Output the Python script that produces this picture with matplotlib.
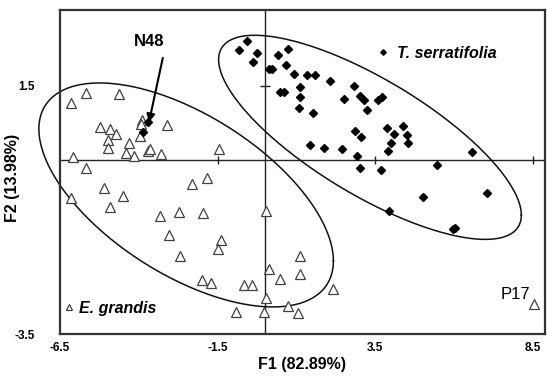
import numpy as np
import matplotlib
matplotlib.use("Agg")
import matplotlib.pyplot as plt

plt.rcParams['font.family'] = ['Liberation Sans', 'DejaVu Sans']

# ---- data ----
eg_x = [-5.66, -4.63, -6.15, -3.91, -3.93, -3.96, -5.23, -4.93, -4.71, -4.97,
        -4.97, -4.31, -4.40, -4.16, -3.71, -3.64, -3.30, -3.12, -6.09, -5.66,
        -1.45, -5.11, -2.32, -1.84, -6.15, -4.51, -4.92, -3.33, -2.73, -1.98,
        -3.04, -2.70, -1.41, -1.49, -2.01, -1.71, 0.02, 1.11, 0.14, 0.48,
        1.11, -0.67, -0.40, 0.02, 2.17, 0.74, -0.93, -0.03, 1.06, 8.54]
eg_y = [1.36, 1.34, 1.15, 0.81, 0.72, 0.49, 0.66, 0.62, 0.53, 0.41,
        0.24, 0.35, 0.14, 0.08, 0.18, 0.22, 0.13, 0.70, 0.06, -0.15,
        0.22, -0.56, -0.47, -0.36, -0.77, -0.73, -0.94, -1.12, -1.04, -1.07,
        -1.51, -1.93, -1.60, -1.78, -2.42, -2.48, -1.03, -1.92, -2.20, -2.39,
        -2.30, -2.52, -2.52, -2.78, -2.60, -2.93, -3.05, -3.05, -3.07, -2.89]

ts_x = [-0.58, -0.81, -0.24, -0.39, 0.42, 0.73, 0.67, 0.13, 0.21, 0.92,
        1.34, 1.59, 2.07, 1.12, 0.48, 0.59, 1.10, 1.08, 1.51, 2.83,
        2.52, 3.01, 3.14, 3.22, 3.59, 3.70, 2.85, 3.04, 1.43, 1.88,
        2.45, 2.92, 3.01, 3.68, 5.44, 3.88, 4.37, 4.10, 4.51, 4.00,
        4.53, 3.91, 6.57, 5.02, 7.03, 3.93, 5.97, 6.03, -3.70, -3.86]
ts_y = [2.40, 2.21, 2.15, 1.98, 2.12, 2.23, 1.92, 1.84, 1.83, 1.73,
        1.72, 1.72, 1.60, 1.47, 1.38, 1.38, 1.28, 1.05, 0.95, 1.50,
        1.24, 1.30, 1.22, 1.01, 1.22, 1.27, 0.58, 0.46, 0.31, 0.24,
        0.22, 0.09, -0.16, -0.20, -0.09, 0.64, 0.68, 0.53, 0.51, 0.34,
        0.34, 0.18, 0.17, -0.74, -0.66, -1.03, -1.39, -1.36, 0.76, 0.56]

# ellipse parameters: center, x half-extent, y half-extent, x-y coupling
eg_ell = dict(cx=-2.50, cy=-0.70, sx=4.67, sy=2.255, sxy=-6.2)
ts_ell = dict(cx=3.33, cy=0.46, sx=4.80, sy=2.055, sxy=-7.51)

xticks = [-6.5, -1.5, 3.5, 8.5]
xticklabels = ['-6.5', '-1.5', '3.5', '8.5']
yticks = [-3.5, 1.5]
yticklabels = ['-3.5', '1.5']

series_labels = ['T. serratifolia', 'E. grandis']
xlabel = 'F1 (82.89%)'
ylabel = 'F2 (13.98%)'


def ellipse_xy(p, n=400):
    t = np.linspace(0, 2 * np.pi, n)
    a = p['sx']
    c = p['sxy'] / a
    d = np.sqrt(p['sy'] ** 2 - c ** 2)
    x = p['cx'] + a * np.cos(t)
    y = p['cy'] + c * np.cos(t) + d * np.sin(t)
    return x, y


fig = plt.figure(figsize=(5.47, 3.76), dpi=100)
ax = fig.add_axes([60 / 547, 1 - 334 / 376, 485 / 547, (334 - 9.7) / 376])
ax.set_xlim(-6.5, 8.88)
ax.set_ylim(-3.5, 3.03)

for s in ax.spines.values():
    s.set_color('#333333')
    s.set_linewidth(1.6)

ax.axhline(0, color='#222222', lw=1.0, zorder=1)
ax.axvline(0, color='#222222', lw=1.0, zorder=1)
ax.plot(xticks[1:], [0] * 3, ls='none', marker='|', ms=6, mew=1.0, color='#222222', zorder=1)
ax.plot([0], [yticks[1]], ls='none', marker='_', ms=7, mew=1.0, color='#222222', zorder=1)

for p in (eg_ell, ts_ell):
    ex, ey = ellipse_xy(p)
    ax.plot(ex, ey, color='#111111', lw=1.1, clip_on=False, zorder=2)

h_eg, = ax.plot(eg_x, eg_y, ls='none', marker='^', ms=6.8, mfc='white', mec='#404040', mew=0.9, zorder=3)
h_ts, = ax.plot(ts_x, ts_y, ls='none', marker='D', ms=4.3, mfc='black', mec='black', zorder=4)

ax.set_xticks(xticks)
ax.set_xticklabels(xticklabels)
ax.set_yticks(yticks)
ax.set_yticklabels(yticklabels)
ax.tick_params(length=0, labelsize=8.5)
ax.tick_params(axis='x', pad=6)
ax.tick_params(axis='y', pad=18)
for lab in ax.get_xticklabels() + ax.get_yticklabels():
    lab.set_fontweight('bold')

ax.set_xlabel(xlabel, fontsize=11.5, fontweight='bold')
ax.set_ylabel(ylabel, fontsize=11.5, fontweight='bold')
ax.xaxis.set_label_coords(0.5, -(357 - 334) / 324.3)
ax.yaxis.set_label_coords((20 - 60) / 485, (334 - 178) / 324.3)

leg_font = dict(size=11.5, weight='bold', style='italic')
leg1 = ax.legend([h_ts], [series_labels[0]], loc='center left', bbox_to_anchor=(0.657, 0.866),
                 frameon=False, markerscale=0.65, handlelength=0.6, handletextpad=0.55,
                 borderpad=0, borderaxespad=0, prop=leg_font)
ax.add_artist(leg1)
ax.legend([h_eg], [series_labels[1]], loc='center left', bbox_to_anchor=(0.009, 0.080),
          frameon=False, markerscale=0.65, handlelength=0.6, handletextpad=0.3,
          borderpad=0, borderaxespad=0, prop=leg_font)

ax.text(-3.67, 2.38, 'N48', fontsize=12, fontweight='bold', ha='center', va='center')
ax.annotate('', xy=(-3.68, 0.76), xytext=(-3.24, 2.06),
            arrowprops=dict(arrowstyle='-|>', lw=1.5, color='black', mutation_scale=12, shrinkA=0, shrinkB=0))
ax.text(8.40, -2.70, 'P17', fontsize=12, ha='right', va='center')

fig.savefig('out.png', dpi=100)
